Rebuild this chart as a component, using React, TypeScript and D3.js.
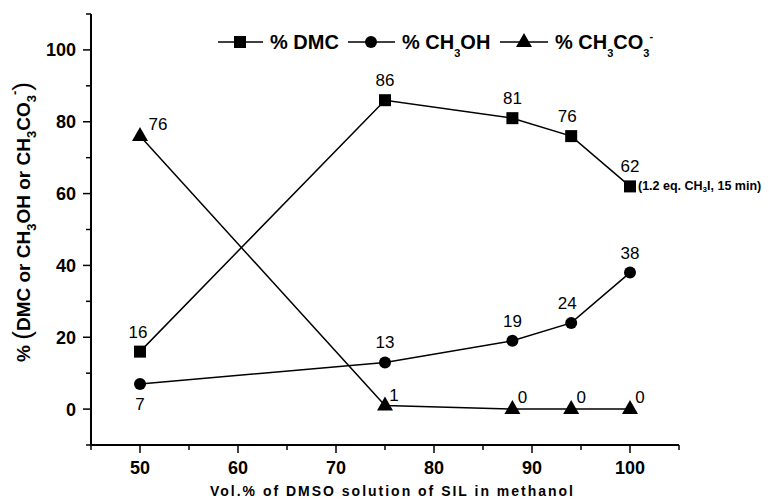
import React from "react";
import * as d3 from "d3";

const xValues = [50, 75, 88, 94, 100];
const dmc = [16, 86, 81, 76, 62];
const methanol = [7, 13, 19, 24, 38];
const carbonate = [76, 1, 0, 0, 0];
const xTicks = [50, 60, 70, 80, 90, 100];
const yTicks = [0, 20, 40, 60, 80, 100];

const W = 769;
const H = 500;
const FONT = "'Liberation Sans', Arial, sans-serif";

export default function App() {
  const x = d3.scaleLinear().domain([45, 105]).range([91, 679]);
  const y = d3.scaleLinear().domain([-10, 110]).range([445, 14]);
  const x0 = x(45);
  const y0 = y(-10);
  const line = d3
    .line<[number, number]>()
    .x((d) => x(d[0]))
    .y((d) => y(d[1]));

  const pts = (vals: number[]) => xValues.map((v, i) => [v, vals[i]] as [number, number]);

  const square = (cx: number, cy: number, k: string | number) => (
    <rect key={k} x={cx - 6} y={cy - 6} width={12} height={12} fill="#000" />
  );
  const circle = (cx: number, cy: number, k: string | number) => (
    <circle key={k} cx={cx} cy={cy} r={6} fill="#000" />
  );
  const tri = (cx: number, cy: number, k: string | number) => (
    <path key={k} d={`M${cx},${cy - 9}L${cx + 8},${cy + 5}L${cx - 8},${cy + 5}Z`} fill="#000" />
  );

  const xMinor = d3.range(45, 106, 5);
  const yMinor = d3.range(-10, 111, 10);

  // label offsets per series [dx, dy]
  const dmcOff: [number, number][] = [[-2, -14], [0, -14], [0, -14], [-4, -14], [0, -14]];
  const meOff: [number, number][] = [[0, 26], [0, -14], [0, -14], [-4, -14], [0, -14]];
  const caOff: [number, number][] = [[18, -6], [9, -4], [10, -6], [10, -6], [10, -6]];

  return (
    <svg width={W} height={H} style={{ position: "absolute", left: 0, top: 0, background: "#fff" }}>
      <g fontFamily={FONT}>
        {/* axes */}
        <line x1={x0} x2={x0} y1={14} y2={y0} stroke="#000" strokeWidth={2} />
        <line x1={x0} x2={679} y1={y0} y2={y0} stroke="#000" strokeWidth={2} />
        {yMinor.map((t) => (
          <line key={"ym" + t} x1={t % 20 === 0 ? x0 - 8 : x0 - 5} x2={x0} y1={y(t)} y2={y(t)} stroke="#000" strokeWidth={1.5} />
        ))}
        {xMinor.map((t) => (
          <line key={"xm" + t} x1={x(t)} x2={x(t)} y1={y0} y2={t % 10 === 0 ? y0 + 8 : y0 + 5} stroke="#000" strokeWidth={1.5} />
        ))}
        {yTicks.map((t) => (
          <text key={"yt" + t} x={76} y={y(t)} dy="0.36em" textAnchor="end" fontSize={18} fontWeight="bold">
            {t}
          </text>
        ))}
        {xTicks.map((t) => (
          <text key={"xt" + t} x={x(t)} y={468} dy="0.36em" textAnchor="middle" fontSize={18} fontWeight="bold">
            {t}
          </text>
        ))}
        <text x={210} y={496} fontSize={14} fontWeight="bold" textLength={363} lengthAdjust="spacing">
          Vol.% of DMSO solution of SIL in methanol
        </text>
        <text transform="translate(30,222) rotate(-90)" textAnchor="middle" fontSize={19} fontWeight="bold">
          <tspan>% </tspan>
          <tspan fontSize={26} fontWeight="normal" dy={1}>(</tspan>
          <tspan dy={-1}>DMC or CH</tspan>
          <tspan fontSize={13} dy={6}>3</tspan>
          <tspan dy={-6}>OH or CH</tspan>
          <tspan fontSize={13} dy={6}>3</tspan>
          <tspan dy={-6}>CO</tspan>
          <tspan fontSize={13} dy={6}>3</tspan>
          <tspan fontSize={13} dy={-17}>-</tspan>
          <tspan fontSize={26} fontWeight="normal" dy={12}>)</tspan>
        </text>

        {/* series lines */}
        <path d={line(pts(dmc)) || ""} fill="none" stroke="#000" strokeWidth={1.5} />
        <path d={line(pts(methanol)) || ""} fill="none" stroke="#000" strokeWidth={1.5} />
        <path d={line(pts(carbonate)) || ""} fill="none" stroke="#000" strokeWidth={1.5} />

        {xValues.map((v, i) => square(x(v), y(dmc[i]), "s" + i))}
        {xValues.map((v, i) => circle(x(v), y(methanol[i]), "c" + i))}
        {xValues.map((v, i) => tri(x(v), y(carbonate[i]), "t" + i))}

        {/* value labels */}
        {xValues.map((v, i) => (
          <text key={"ld" + i} x={x(v) + dmcOff[i][0]} y={y(dmc[i]) + dmcOff[i][1]} textAnchor="middle" fontSize={17}>
            {dmc[i]}
          </text>
        ))}
        {xValues.map((v, i) => (
          <text key={"lm" + i} x={x(v) + meOff[i][0]} y={y(methanol[i]) + meOff[i][1]} textAnchor="middle" fontSize={17}>
            {methanol[i]}
          </text>
        ))}
        {xValues.map((v, i) => (
          <text key={"lc" + i} x={x(v) + caOff[i][0]} y={y(carbonate[i]) + caOff[i][1]} textAnchor="middle" fontSize={17}>
            {carbonate[i]}
          </text>
        ))}

        <text x={638} y={y(dmc[4]) + 4} fontSize={12.5} fontWeight="bold">
          (1.2 eq. CH<tspan fontSize={8} dy={2}>3</tspan>
          <tspan dy={-2}>I, 15 min)</tspan>
        </text>

        {/* legend */}
        <g fontSize={20} fontWeight="bold">
          <line x1={218} x2={263} y1={42} y2={42} stroke="#000" strokeWidth={1.5} />
          {square(240, 42, "ls")}
          <text x={270} y={42} dy="0.36em">% DMC</text>
          <line x1={348} x2={395} y1={42} y2={42} stroke="#000" strokeWidth={1.5} />
          {circle(371, 42, "lc")}
          <text x={402} y={42} dy="0.36em">
            % CH<tspan fontSize={11} dy={8}>3</tspan>
            <tspan dy={-8}>OH</tspan>
          </text>
          <line x1={500} x2={548} y1={42} y2={42} stroke="#000" strokeWidth={1.5} />
          {tri(524, 42, "lt")}
          <text x={555} y={42} dy="0.36em">
            % CH<tspan fontSize={11} dy={8}>3</tspan>
            <tspan dy={-8}>CO</tspan>
            <tspan fontSize={11} dy={8}>3</tspan>
            <tspan fontSize={11} dy={-17}>-</tspan>
          </text>
        </g>
      </g>
    </svg>
  );
}
